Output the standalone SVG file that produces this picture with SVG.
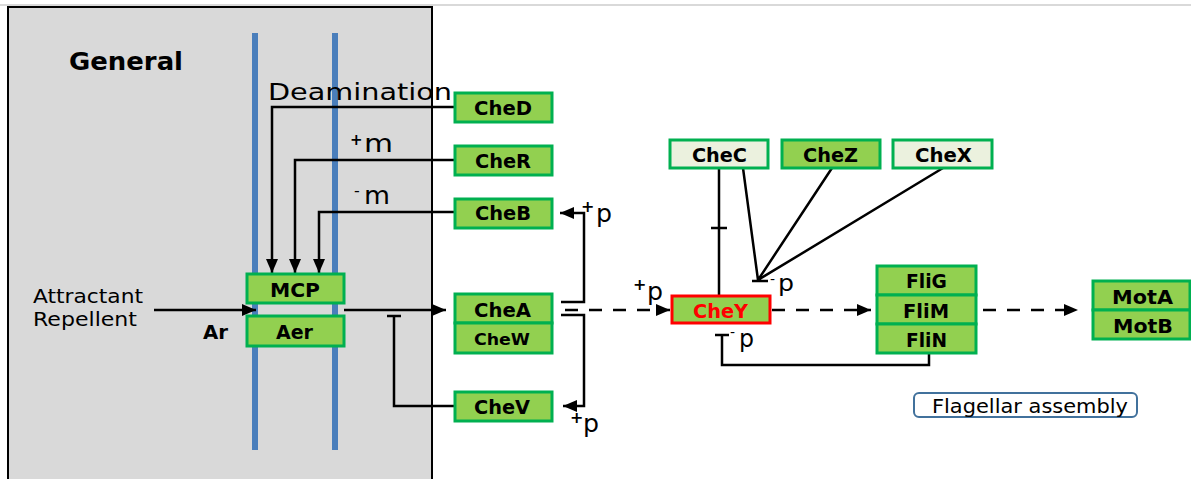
<svg xmlns="http://www.w3.org/2000/svg" width="1191" height="479" viewBox="0 0 1191 479">
<defs>
<style>
.box{fill:#92D050;stroke:#00B050;stroke-width:3}
.lbox{fill:#EBF1DE;stroke:#00B050;stroke-width:3}
.red{fill:#92D050;stroke:#FF0000;stroke-width:3}
.bl{font-family:"DejaVu Sans","Liberation Sans",sans-serif;font-weight:bold;font-size:19px;fill:#000;text-anchor:start}
.tx{font-family:"DejaVu Sans","Liberation Sans",sans-serif;fill:#000}
.ln{fill:none;stroke:#000;stroke-width:2.5}
.da{fill:none;stroke:#000;stroke-width:2.5;stroke-dasharray:13 11}
.mem{stroke:#4A7EBB;stroke-width:6}
</style>
<marker id="ah" viewBox="0 0 14 12" refX="14" refY="6" markerWidth="14" markerHeight="12" markerUnits="userSpaceOnUse" orient="auto">
<path d="M0,0 L14,6 L0,12 z" fill="#000"/>
</marker>
</defs>
<rect width="1191" height="479" fill="#fff"/>
<line x1="0" y1="5" x2="1191" y2="5" stroke="#D9D9D9" stroke-width="2"/>
<g id="general-panel">
<rect x="8" y="7" width="424" height="480" fill="#D9D9D9" stroke="#000" stroke-width="2"/>
<text class="tx" x="69" y="70" font-size="24" font-weight="bold" textLength="114" lengthAdjust="spacingAndGlyphs">General</text>
</g>
<g id="membrane">
<line class="mem" x1="255" y1="33" x2="255" y2="450"/>
<line class="mem" x1="335" y1="33" x2="335" y2="450"/>
</g>
<g id="labels">
<text class="tx" x="268" y="100" font-size="23" textLength="184" lengthAdjust="spacingAndGlyphs">Deamination</text>
<text class="tx" x="350" y="145" font-size="15" font-weight="bold">+</text>
<text class="tx" x="364" y="152" font-size="25" textLength="29" lengthAdjust="spacingAndGlyphs">m</text>
<text class="tx" x="354" y="196" font-size="16">-</text>
<text class="tx" x="364" y="204" font-size="25" textLength="26" lengthAdjust="spacingAndGlyphs">m</text>
<text class="tx" x="33" y="303" font-size="19" textLength="110" lengthAdjust="spacingAndGlyphs">Attractant</text>
<text class="tx" x="33" y="326" font-size="19" textLength="104" lengthAdjust="spacingAndGlyphs">Repellent</text>
<text class="tx" x="203" y="339" font-size="20" font-weight="bold" textLength="25" lengthAdjust="spacingAndGlyphs">Ar</text>
<text class="tx" x="581" y="212" font-size="16" font-weight="bold">+</text>
<text class="tx" x="596" y="222" font-size="24" textLength="16" lengthAdjust="spacingAndGlyphs">p</text>
<text class="tx" x="570" y="423" font-size="16" font-weight="bold">+</text>
<text class="tx" x="583" y="432" font-size="24" textLength="16" lengthAdjust="spacingAndGlyphs">p</text>
<text class="tx" x="633" y="290" font-size="16" font-weight="bold">+</text>
<text class="tx" x="647" y="300" font-size="24" textLength="16" lengthAdjust="spacingAndGlyphs">p</text>
<text class="tx" x="770" y="284" font-size="14">-</text>
<text class="tx" x="778" y="291" font-size="23" textLength="16" lengthAdjust="spacingAndGlyphs">p</text>
<text class="tx" x="730" y="337" font-size="14">-</text>
<text class="tx" x="739" y="347" font-size="24" textLength="15" lengthAdjust="spacingAndGlyphs">p</text>
</g>
<g id="connectors">
<path class="ln" d="M455,107 H272 V273" marker-end="url(#ah)"/>
<path class="ln" d="M455,160 H295 V273" marker-end="url(#ah)"/>
<path class="ln" d="M455,212 H319 V273" marker-end="url(#ah)"/>
<path class="ln" d="M154,310 H256" marker-end="url(#ah)"/>
<path class="ln" d="M344,310 H446" marker-end="url(#ah)"/>
<path class="ln" d="M387,316 H401 M394,316 V406 H455"/>
<path class="ln" d="M561,302 H584 V213 H560" marker-end="url(#ah)"/>
<path class="ln" d="M561,315 H584 V406 H563" marker-end="url(#ah)"/>
<path class="da" d="M565,310 H670"/>
<path d="M656,304 L670,310 L656,316 z" fill="#000"/>
<path class="ln" d="M719,168 V295 M711,228 H727"/>
<path class="ln" d="M743,168 L758,280 M832,168 L758,280 M943,168 L758,280 M752,281 H768"/>
<path class="ln" d="M715,335 H729 M722,335 V365 H929 V353"/>
<path class="da" d="M772,310 H871"/>
<path d="M857,304 L871,310 L857,316 z" fill="#000"/>
<path class="da" d="M983,310 H1078"/>
<path d="M1064,304 L1078,310 L1064,316 z" fill="#000"/>
</g>
<g id="MCP"><rect class="box" x="247" y="274" width="97" height="29"/><text class="bl" x="270" y="297" textLength="50" lengthAdjust="spacingAndGlyphs">MCP</text></g>
<g id="Aer"><rect class="box" x="247" y="316" width="97" height="30"/><text class="bl" x="276" y="339" textLength="37" lengthAdjust="spacingAndGlyphs">Aer</text></g>
<g id="CheD"><rect class="box" x="455" y="93" width="97" height="29"/><text class="bl" x="474" y="115" textLength="58" lengthAdjust="spacingAndGlyphs">CheD</text></g>
<g id="CheR"><rect class="box" x="455" y="146" width="97" height="29"/><text class="bl" x="475" y="168" textLength="56" lengthAdjust="spacingAndGlyphs">CheR</text></g>
<g id="CheB"><rect class="box" x="455" y="199" width="97" height="29"/><text class="bl" x="475" y="220" textLength="56" lengthAdjust="spacingAndGlyphs">CheB</text></g>
<g id="CheA-CheW">
<rect class="box" x="455" y="294" width="97" height="29"/><text class="bl" x="474" y="317" textLength="57" lengthAdjust="spacingAndGlyphs">CheA</text>
<rect class="box" x="455" y="323" width="97" height="30"/><text class="bl" x="474" y="345" font-size="16" style="font-size:16px" textLength="56" lengthAdjust="spacingAndGlyphs">CheW</text>
</g>
<g id="CheV"><rect class="box" x="455" y="392" width="97" height="29"/><text class="bl" x="474" y="414" textLength="56" lengthAdjust="spacingAndGlyphs">CheV</text></g>
<g id="CheY"><rect class="red" x="672" y="296" width="98" height="27"/><text class="bl" x="693" y="318" style="fill:#FF0000" textLength="55" lengthAdjust="spacingAndGlyphs">CheY</text></g>
<g id="CheC"><rect class="lbox" x="670" y="140" width="98" height="28"/><text class="bl" x="692" y="162" textLength="55" lengthAdjust="spacingAndGlyphs">CheC</text></g>
<g id="CheZ"><rect class="box" x="782" y="140" width="98" height="28"/><text class="bl" x="803" y="162" textLength="55" lengthAdjust="spacingAndGlyphs">CheZ</text></g>
<g id="CheX"><rect class="lbox" x="893" y="140" width="99" height="28"/><text class="bl" x="915" y="162" textLength="57" lengthAdjust="spacingAndGlyphs">CheX</text></g>
<g id="FliGMN">
<rect class="box" x="877" y="266" width="99" height="29"/><text class="bl" x="906" y="288" textLength="41" lengthAdjust="spacingAndGlyphs">FliG</text>
<rect class="box" x="877" y="295" width="99" height="29"/><text class="bl" x="903" y="318" textLength="46" lengthAdjust="spacingAndGlyphs">FliM</text>
<rect class="box" x="877" y="324" width="99" height="29"/><text class="bl" x="906" y="347" textLength="41" lengthAdjust="spacingAndGlyphs">FliN</text>
</g>
<g id="MotAB">
<rect class="box" x="1093" y="281" width="97" height="29"/><text class="bl" x="1112" y="304" textLength="61" lengthAdjust="spacingAndGlyphs">MotA</text>
<rect class="box" x="1093" y="310" width="97" height="29"/><text class="bl" x="1113" y="333" textLength="60" lengthAdjust="spacingAndGlyphs">MotB</text>
</g>
<g id="flagellar-assembly">
<rect x="914" y="393" width="223" height="24" rx="5" fill="#fff" stroke="#41719C" stroke-width="2"/>
<text class="tx" x="932" y="413" font-size="19" textLength="196" lengthAdjust="spacingAndGlyphs">Flagellar assembly</text>
</g>
</svg>
